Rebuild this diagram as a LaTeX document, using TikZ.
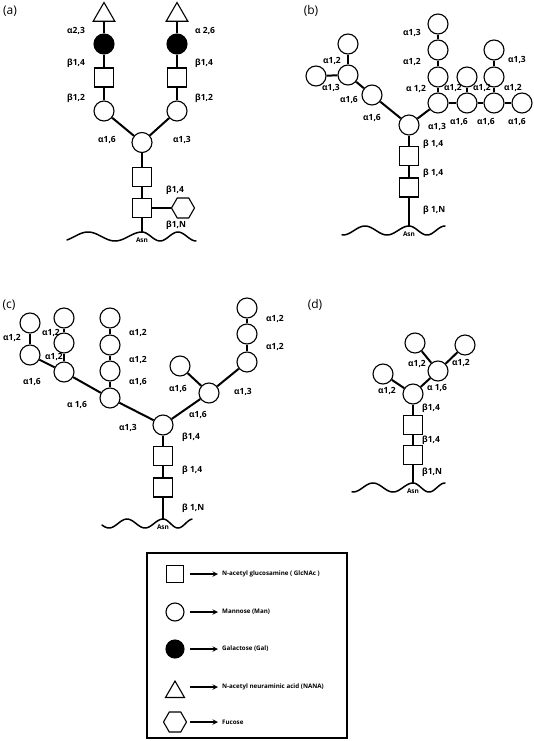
\documentclass[tikz,border=0pt]{standalone}
\usepackage{fontspec}
\setsansfont{Open Sans}
\usepackage{tikz}
\usetikzlibrary{positioning,shapes.geometric}

\begin{document}
\begin{tikzpicture}[x=1pt,y=-1pt,
  man/.style={circle,draw,line width=1.1pt,fill=white,minimum size=20pt,inner sep=0pt},
  gal/.style={man,fill=black},
  glc/.style={rectangle,draw,line width=1.1pt,fill=white,minimum size=19pt,inner sep=0pt},
  nana/.style={regular polygon,regular polygon sides=3,draw,line width=1.1pt,fill=white,minimum size=25pt,inner sep=0pt},
  fuc/.style={regular polygon,regular polygon sides=6,draw,line width=1.1pt,fill=white,minimum size=23pt,inner sep=0pt},
  bond/.style={line width=2pt},
  wave/.style={line width=1.5pt,line cap=round},
  lk/.style={font=\sffamily\bfseries\fontsize{8.5}{10}\selectfont,inner sep=0pt},
  asn/.style={font=\sffamily\bfseries\fontsize{6.5}{8}\selectfont,inner sep=0pt},
  panel/.style={font=\sffamily\fontsize{12}{14}\selectfont,inner sep=0pt},
  key/.style={font=\sffamily\bfseries\fontsize{6.2}{8}\selectfont,inner sep=0pt,anchor=west},
  keyarrow/.style={-stealth,line width=1.4pt,shorten <=15pt,shorten >=4pt}]
  \useasboundingbox (0,0) rectangle (533,741);

  % (a)
  \node[panel] (a-tag) at (10,11) {(a)};
  \node[nana] (a-sia1) at (104,15) {};
  \node[gal] (a-gal1) at (104,44) {};
  \node[glc] (a-nag1) at (104,77.5) {};
  \node[man] (a-man1) at (104,111) {};
  \node[nana] (a-sia2) at (177,15) {};
  \node[gal] (a-gal2) at (177,44) {};
  \node[glc] (a-nag2) at (177,77.5) {};
  \node[man] (a-man2) at (177,111) {};
  \node[man] (a-core) at (142,142.5) {};
  \node[glc] (a-nag3) at (142,177) {};
  \node[glc] (a-nag4) at (142,208) {};
  \node[fuc] (a-fuc) at (183,208) {};
  \coordinate (a-asn) at (142,232);
  \path[bond]
    (a-sia1) edge (a-gal1) (a-gal1) edge (a-nag1) (a-nag1) edge (a-man1) (a-man1) edge (a-core)
    (a-sia2) edge (a-gal2) (a-gal2) edge (a-nag2) (a-nag2) edge (a-man2) (a-man2) edge (a-core)
    (a-core) edge (a-nag3) (a-nag3) edge (a-nag4) (a-nag4) edge (a-asn)
    (a-nag4) edge (a-fuc);
  \draw[wave] plot[domain=-75:0,samples=40] ({142+\x},{232+4.5*(1-cos(180*\x/27))});
  \draw[wave] plot[domain=0:54,samples=30] ({142+\x},{232+4.5*(1-cos(180*\x/18))});
  \node[asn] (a-asntext) at (142,240) {Asn};
  \node[lk,anchor=west] (a-l1) at (67,31) {α2,3};
  \node[lk,anchor=west] (a-l2) at (195,31) {α 2,6};
  \node[lk,anchor=west] (a-l3) at (67,63) {β1,4};
  \node[lk,anchor=west] (a-l4) at (195,63) {β1,4};
  \node[lk,anchor=west] (a-l5) at (67,98) {β1,2};
  \node[lk,anchor=west] (a-l6) at (195,98) {β1,2};
  \node[lk] (a-l7) at (107,140) {α1,6};
  \node[lk] (a-l8) at (182,140) {α1,3};
  \node[lk,anchor=west] (a-l9) at (166,190) {β1,4};
  \node[lk,anchor=west] (a-l10) at (166,225) {β1,N};

  % (b)
  \node[panel] (b-tag) at (311,11) {(b)};
  \node[man] (b-core) at (409,125) {};
  \node[glc] (b-nag1) at (409,156) {};
  \node[glc] (b-nag2) at (409,187.5) {};
  \coordinate (b-asn) at (409,226);
  \node[man] (b-m1) at (372,95) {};
  \node[man] (b-m2) at (348,75) {};
  \node[man] (b-m3) at (348,44) {};
  \node[man] (b-m4) at (316,76) {};
  \node[man] (b-r1) at (438,103) {};
  \node[man] (b-r2) at (467,103) {};
  \node[man] (b-r3) at (494,103) {};
  \node[man] (b-r4) at (522,103) {};
  \node[man] (b-r1a) at (438,77) {};
  \node[man] (b-r1b) at (438,50) {};
  \node[man] (b-r1c) at (438,24) {};
  \node[man] (b-r2a) at (467,77) {};
  \node[man] (b-r3a) at (494,77) {};
  \node[man] (b-r3b) at (494,50) {};
  \path[bond]
    (b-core) edge (b-nag1) (b-nag1) edge (b-nag2) (b-nag2) edge (b-asn)
    (b-core) edge (b-m1) (b-m1) edge (b-m2) (b-m2) edge (b-m3) (b-m2) edge (b-m4)
    (b-core) edge (b-r1) (b-r1) edge (b-r2) (b-r2) edge (b-r3) (b-r3) edge (b-r4)
    (b-r1) edge (b-r1a) (b-r1a) edge (b-r1b) (b-r1b) edge (b-r1c)
    (b-r2) edge (b-r2a) (b-r3) edge (b-r3a) (b-r3a) edge (b-r3b);
  \draw[wave] plot[domain=-67:0,samples=40] ({409+\x},{226+4.5*(1-cos(180*\x/22))});
  \draw[wave] plot[domain=0:36,samples=30] ({409+\x},{226+4.5*(1-cos(180*\x/18))});
  \node[asn] (b-asntext) at (409,234) {Asn};
  \node[lk] (b-l1) at (332,61) {α1,2};
  \node[lk] (b-l2) at (331,88) {α1,3};
  \node[lk] (b-l3) at (349,100) {α1,6};
  \node[lk] (b-l4) at (372,118) {α1,6};
  \node[lk] (b-l5) at (412,33) {α1,3};
  \node[lk] (b-l6) at (412,62) {α1,2};
  \node[lk] (b-l7) at (416,89) {α 1,2};
  \node[lk] (b-l8) at (453,88) {α1,2};
  \node[lk] (b-l9) at (482,88) {α1,2};
  \node[lk] (b-l10) at (513,88) {α1,2};
  \node[lk] (b-l11) at (517,60) {α1,3};
  \node[lk,anchor=west] (b-l12) at (428,127) {α1,3};
  \node[lk] (b-l13) at (459,122) {α1,6};
  \node[lk] (b-l14) at (486,122) {α1,6};
  \node[lk] (b-l15) at (517,122) {α1,6};
  \node[lk,anchor=west] (b-l16) at (423,144) {β 1,4};
  \node[lk,anchor=west] (b-l17) at (423,173) {β 1,4};
  \node[lk,anchor=west] (b-l18) at (423,210) {β 1,N};

  % (c)
  \node[panel] (c-tag) at (9,305) {(c)};
  \node[man] (c-core) at (163,425) {};
  \node[glc] (c-nag1) at (163,456) {};
  \node[glc] (c-nag2) at (163,487.5) {};
  \coordinate (c-asn) at (163,519);
  \node[man] (c-l1) at (110,398) {};
  \node[man] (c-l1a) at (110,371) {};
  \node[man] (c-l1b) at (110,345) {};
  \node[man] (c-l1c) at (110,318) {};
  \node[man] (c-l2) at (64,372) {};
  \node[man] (c-l2a) at (64,343) {};
  \node[man] (c-l2b) at (64,318) {};
  \node[man] (c-l3) at (30,355) {};
  \node[man] (c-l3a) at (30,323) {};
  \node[man] (c-r1) at (209,393) {};
  \node[man] (c-r1a) at (180,366) {};
  \node[man] (c-r2) at (247,362) {};
  \node[man] (c-r2a) at (247,334) {};
  \node[man] (c-r2b) at (247,308) {};
  \path[bond]
    (c-core) edge (c-nag1) (c-nag1) edge (c-nag2) (c-nag2) edge (c-asn)
    (c-core) edge (c-l1) (c-l1) edge (c-l2) (c-l2) edge (c-l3) (c-l3) edge (c-l3a)
    (c-l1) edge (c-l1a) (c-l1a) edge (c-l1b) (c-l1b) edge (c-l1c)
    (c-l2) edge (c-l2a) (c-l2a) edge (c-l2b)
    (c-core) edge (c-r1) (c-r1) edge (c-r1a) (c-r1) edge (c-r2)
    (c-r2) edge (c-r2a) (c-r2a) edge (c-r2b);
  \draw[wave] plot[domain=-61:0,samples=40] ({163+\x},{519+4.5*(1-cos(180*\x/18))});
  \draw[wave] plot[domain=0:29,samples=30] ({163+\x},{519+4.5*(1-cos(180*\x/15))});
  \node[asn] (c-asntext) at (163,527) {Asn};
  \node[lk] (c-t1) at (12,338) {α1,2};
  \node[lk] (c-t2) at (51,333) {α1,2};
  \node[lk] (c-t3) at (54,357) {α1,2};
  \node[lk] (c-t4) at (32,382) {α1,6};
  \node[lk] (c-t5) at (77,405) {α 1,6};
  \node[lk] (c-t6) at (138,333) {α1,2};
  \node[lk] (c-t7) at (138,360) {α1,2};
  \node[lk] (c-t8) at (138,382) {α1,6};
  \node[lk] (c-t9) at (128,428) {α1,3};
  \node[lk] (c-t10) at (198,415) {α1,6};
  \node[lk] (c-t11) at (178,389) {α1,6};
  \node[lk] (c-t12) at (243,392) {α1,3};
  \node[lk] (c-t13) at (275,319) {α1,2};
  \node[lk] (c-t14) at (275,347) {α1,2};
  \node[lk,anchor=west] (c-t15) at (182,437) {β1,4};
  \node[lk,anchor=west] (c-t16) at (182,470) {β 1,4};
  \node[lk,anchor=west] (c-t17) at (182,508) {β 1,N};

  % (d)
  \node[panel] (d-tag) at (315,305) {(d)};
  \node[man] (d-core) at (413,394) {};
  \node[glc] (d-nag1) at (413,425) {};
  \node[glc] (d-nag2) at (413,455) {};
  \coordinate (d-asn) at (413,483);
  \node[man] (d-l) at (383,374) {};
  \node[man] (d-r) at (438,371) {};
  \node[man] (d-ra) at (415,343) {};
  \node[man] (d-rb) at (465,345) {};
  \path[bond]
    (d-core) edge (d-nag1) (d-nag1) edge (d-nag2) (d-nag2) edge (d-asn)
    (d-core) edge (d-l) (d-core) edge (d-r) (d-r) edge (d-ra) (d-r) edge (d-rb);
  \draw[wave] plot[domain=-61:0,samples=40] ({413+\x},{483+4.5*(1-cos(180*\x/20))});
  \draw[wave] plot[domain=0:32,samples=30] ({413+\x},{483+4.5*(1-cos(180*\x/16))});
  \node[asn] (d-asntext) at (413,491) {Asn};
  \node[lk] (d-t1) at (387,391) {α1,2};
  \node[lk] (d-t2) at (437,388) {α 1,6};
  \node[lk] (d-t3) at (417,364) {α1,2};
  \node[lk] (d-t4) at (461,363) {α1,2};
  \node[lk,anchor=west] (d-t5) at (422,408) {β1,4};
  \node[lk,anchor=west] (d-t6) at (422,440) {β1,4};
  \node[lk,anchor=west] (d-t7) at (422,472) {β1,N};

  % key
  \draw[line width=1.1pt] (147,553) rectangle (347,738);
  \node[glc,minimum size=17.5pt] (k-nag) at (175,574) {};
  \node[man,minimum size=18pt] (k-man) at (175,612) {};
  \node[gal,minimum size=18pt] (k-gal) at (175,649) {};
  \node[nana,minimum size=22pt] (k-sia) at (175,692) {};
  \node[fuc] (k-fuc) at (175,722) {};
  \node[key] (k-nagtext) at (222,574) {N-acetyl glucosamine ( GlcNAc )};
  \node[key] (k-mantext) at (222,612) {Mannose (Man)};
  \node[key] (k-galtext) at (222,649) {Galactose (Gal)};
  \node[key] (k-siatext) at (222,687) {N-acetyl neuraminic acid (NANA)};
  \node[key] (k-fuctext) at (222,722) {Fucose};
  \draw[keyarrow] (k-nag |- k-nagtext) -- (k-nagtext);
  \draw[keyarrow] (k-man |- k-mantext) -- (k-mantext);
  \draw[keyarrow] (k-gal |- k-galtext) -- (k-galtext);
  \draw[keyarrow] (k-sia |- k-siatext) -- (k-siatext);
  \draw[keyarrow] (k-fuc |- k-fuctext) -- (k-fuctext);
\end{tikzpicture}
\end{document}
